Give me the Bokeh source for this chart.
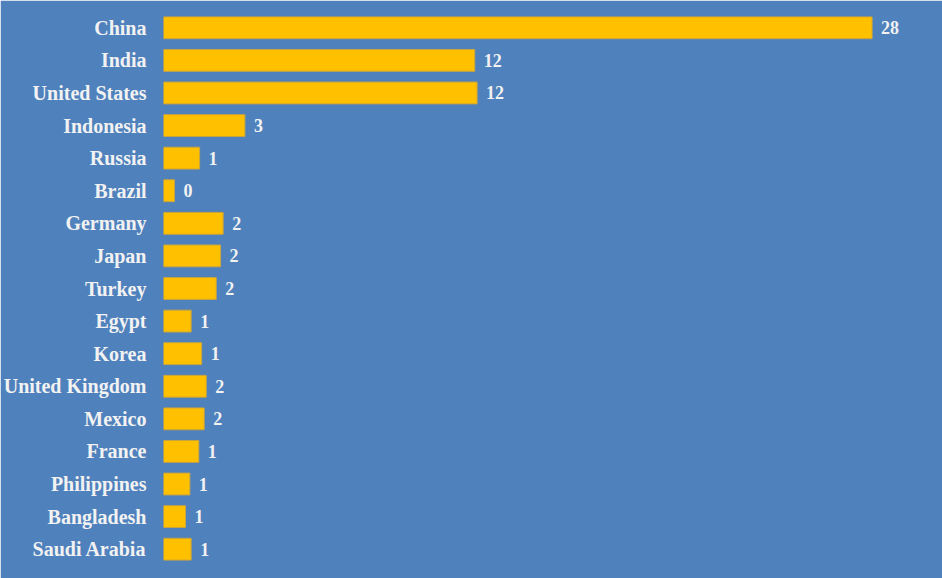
from bokeh.plotting import figure
from bokeh.models import ColumnDataSource, FactorRange, Range1d, LabelSet
from bokeh.core.properties import value
from bokeh.embed import file_html
from bokeh.resources import INLINE

countries = ["China", "India", "United States", "Indonesia", "Russia", "Brazil",
             "Germany", "Japan", "Turkey", "Egypt", "Korea", "United Kingdom",
             "Mexico", "France", "Philippines", "Bangladesh", "Saudi Arabia"]
values = [27.68, 12.16, 12.25, 3.18, 1.41, 0.43, 2.33, 2.23, 2.06, 1.08, 1.49,
          1.67, 1.59, 1.38, 1.03, 0.86, 1.08]
labels = [f"{v:.0f}" for v in values]

BG = "#4F81BD"
FONT = "Liberation Serif"

src = ColumnDataSource(dict(country=countries, value=values, label=labels))

p = figure(width=942, height=578, output_backend="svg", toolbar_location=None,
           y_range=FactorRange(factors=countries[::-1], range_padding=0),
           x_range=Range1d(0, 779 / 25.6),
           min_border_left=163, min_border_right=0, min_border_top=11, min_border_bottom=13,
           background_fill_color=BG, border_fill_color=BG,
           outline_line_color=BG, outline_line_width=3)

p.hbar(y="country", right="value", left=0, height=0.67, source=src,
       fill_color="#FFC000", line_color="#C9A43C", line_width=1)

labs = LabelSet(x="value", y="country", text="label", source=src, x_offset=9, y_offset=0,
                text_font=value(FONT), text_font_style="bold", text_font_size="18px",
                text_color="#F2F2F2", text_baseline="middle")
p.add_layout(labs)

p.xaxis.visible = False
p.xgrid.visible = False
p.ygrid.visible = False
ax = p.yaxis[0]
ax.axis_line_color = None
ax.major_tick_line_color = None
ax.minor_tick_line_color = None
ax.major_tick_out = 0
ax.major_tick_in = 0
ax.major_label_standoff = 17
ax.major_label_text_font = FONT
ax.major_label_text_font_style = "bold"
ax.major_label_text_font_size = "20px"
ax.major_label_text_color = "#F2F2F2"

open("out.html", "w").write(file_html(p, INLINE))
